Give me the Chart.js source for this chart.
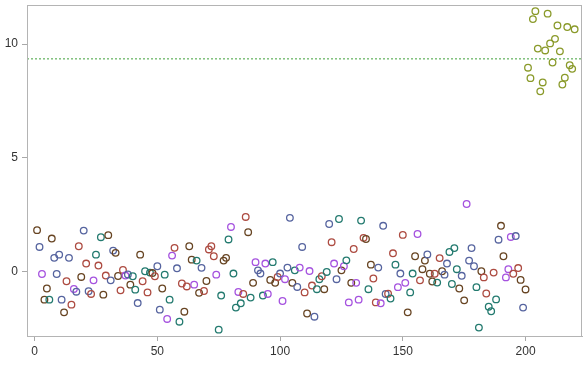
<!DOCTYPE html>
<html><head><meta charset="utf-8">
<script src="https://cdn.jsdelivr.net/npm/chart.js@4"></script>
<style>html,body{margin:0;padding:0;background:#fff;overflow:hidden;}canvas{display:block;}</style>
</head><body><canvas id="c" width="584" height="366"></canvas>
<script>
// group code for each observation (1..220)
const groups = ("NBPNNTNBBBBNRBRPBRNBRBRPTRTNRNBBNNRRPBNTTBNRTRTNRBBNTPTPRBTRNRNNPTNBRNRRRPTTNNTPTTPTRRNTNPBBTPPNTNRBPPBBNTBPBRNPRBTTRNTBRPBTNPTPNRPPTRNTNRRBPBBRTRTPBRPNTTNPRNNBNNRTRNBBTTTTNBNPBBBTTNRRTTRTBNNPPPRBRNBN" + "OOOOOOOOOOOOOOOOOOOO").split("");
const yValues = [
 1.81, 1.07,-0.12,-1.25,-0.76,-1.25, 1.44, 0.59,-0.12, 0.73,
-1.25,-1.81,-0.44, 0.59,-1.47,-0.78,-0.90, 1.10,-0.25, 1.79,
 0.34,-0.88,-1.00,-0.40, 0.73, 0.25, 1.50,-1.03,-0.19, 1.59,
-0.40, 0.91, 0.81,-0.21,-0.84, 0.06,-0.19,-0.14,-0.59,-0.22,
-0.81,-1.40, 0.73,-0.44, 0.00,-0.93,-0.06,-0.08,-0.22, 0.22,
-1.69,-0.76,-0.15,-2.10,-1.25, 0.69, 1.03, 0.13,-2.22,-0.54,
-1.78,-0.67, 1.10, 0.51,-0.59, 0.47,-0.95, 0.15,-0.87,-0.43,
 0.96, 1.10, 0.66,-0.15,-2.57,-1.07, 0.47, 0.59, 1.40, 1.95,
-0.10,-1.60,-0.91,-1.41,-1.00, 2.39, 1.72,-1.16,-0.51, 0.40,
 0.04,-0.10,-1.07, 0.34,-1.00,-0.38, 0.40,-0.51,-0.25,-0.10,
-1.31,-0.35, 0.16, 2.35,-0.51, 0.04,-0.69, 0.16, 1.07,-0.93,
-1.86, 0.01,-0.63,-2.00,-0.79,-0.35,-0.22,-0.79,-0.03, 2.08,
 1.28, 0.34,-0.35, 2.30, 0.04, 0.22, 0.48,-1.37,-0.51, 0.98,
-0.51,-1.25, 2.23, 1.47, 1.42,-0.79, 0.29,-0.32,-1.37, 0.16,
-1.41, 2.00,-1.00,-0.99,-1.20, 0.79, 0.29,-0.70,-0.10, 1.60,
-0.51,-1.81,-0.93,-0.10, 0.66, 1.64,-0.40, 0.09, 0.47, 0.74,
-0.11,-0.45,-0.11,-0.50, 0.58, 0.00,-0.15, 0.34, 0.85,-0.56,
 1.02, 0.09,-0.76,-0.20,-1.28, 2.96, 0.47, 1.02, 0.22,-0.70,
-2.48, 0.00,-0.27,-0.98,-1.56,-1.76,-0.06,-1.24, 1.39, 2.00,
 0.66,-0.27, 0.09, 1.51,-0.11, 1.55, 0.14,-0.38,-1.60,-0.80,
 8.96, 8.50,11.10,11.45, 9.80, 7.92, 8.31, 9.72,11.34,10.03,
 9.19,10.23,10.82, 9.68, 8.22, 8.52,10.75, 9.07, 8.91,10.65
];
const xValues = yValues.map((_, k) => k + 1);
const refValue = 9.35;
const xTicks = [0, 50, 100, 150, 200];
const yTicks = [0, 5, 10];
const xRange = [-3.1, 223];
const yRange = [-2.85, 11.72];
const groupColors = {B:'#56649f', R:'#ad4b41', T:'#237a6f', N:'#674422', P:'#a552df', O:'#8a9a2a'};

const pts = xValues.map((x, k) => ({x: x, y: yValues[k]}));
const frame = {
  id: 'frame',
  afterDatasetsDraw(chart) {
    const a = chart.chartArea, ctx = chart.ctx;
    ctx.save(); ctx.strokeStyle = '#b4b4b4'; ctx.lineWidth = 1;
    ctx.strokeRect(Math.round(a.left) + 0.5, Math.round(a.top) + 0.5, Math.round(a.right - a.left) - 1, Math.round(a.bottom - a.top));
    ctx.restore();
  }
};
new Chart(document.getElementById('c'), {
  type: 'scatter',
  data: { datasets: [
    { data: pts, showLine: false, pointStyle: 'circle', pointRadius: 3.3, pointHoverRadius: 3.3,
      pointBorderWidth: 1.3, backgroundColor: 'rgba(0,0,0,0)',
      pointBorderColor: groups.map(g => groupColors[g]), order: 1 },
    { type: 'line', data: [{x: xRange[0], y: refValue}, {x: xRange[1], y: refValue}],
      borderColor: '#5fb05a', borderWidth: 1.2, borderDash: [2, 2], pointRadius: 0, order: 2 }
  ]},
  plugins: [frame],
  options: {
    responsive: false, animation: false, devicePixelRatio: 1,
    layout: { autoPadding: false, padding: { top: 5, right: 2, left: 0, bottom: 0 } },
    plugins: { legend: { display: false }, tooltip: { enabled: false } },
    scales: {
      x: { type: 'linear', min: xRange[0], max: xRange[1],
        afterBuildTicks: s => { s.ticks = xTicks.map(v => ({value: v})); },
        afterFit: s => { s.height = 30; s.paddingLeft = 0; s.paddingRight = 0; },
        grid: { drawOnChartArea: false, drawTicks: true, tickLength: 5, color: '#a8a8a8' },
        border: { display: true, color: '#b4b4b4' },
        ticks: { color: '#333', font: { family: 'Liberation Sans, Arial', size: 12 }, padding: 3, maxRotation: 0 } },
      y: { type: 'linear', min: yRange[0], max: yRange[1],
        afterBuildTicks: s => { s.ticks = yTicks.map(v => ({value: v})); },
        afterFit: s => { s.width = 27; s.paddingTop = 0; s.paddingBottom = 0; },
        grid: { drawOnChartArea: false, drawTicks: true, tickLength: 5, color: '#a8a8a8' },
        border: { display: true, color: '#b4b4b4' },
        ticks: { color: '#333', font: { family: 'Liberation Sans, Arial', size: 12 }, padding: 4 } }
    }
  }
});
</script></body></html>
